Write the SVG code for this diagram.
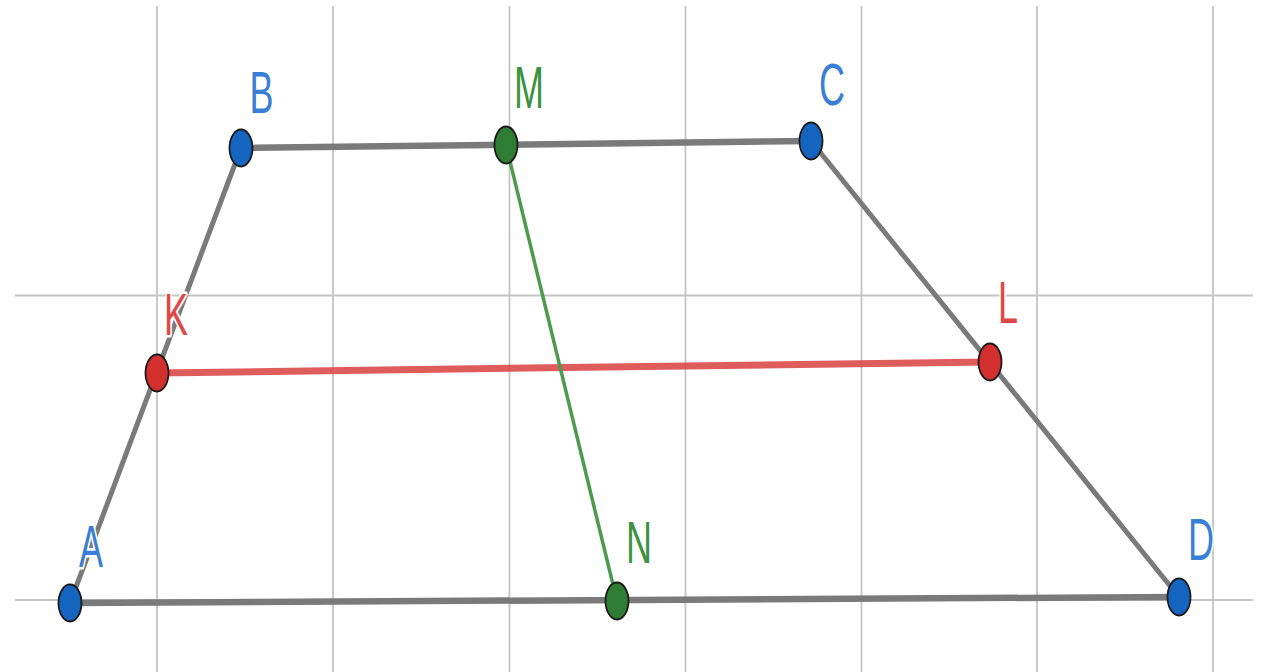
<svg xmlns="http://www.w3.org/2000/svg" width="1266" height="672" viewBox="0 0 1266 672">
<style>
.grid line{stroke:#c4c4c4;stroke-width:1.8}
.seg{stroke:#7a7a7a;stroke-linecap:round}
.lbl{font-family:"Liberation Sans",Arial,sans-serif;font-size:60px;text-anchor:middle;stroke:#fff;stroke-width:5;paint-order:stroke;stroke-linejoin:round}
.blue{fill:#3a7fd6}.red{fill:#e04848}.green{fill:#3d9140}
.pt{stroke:#1a1a1a;stroke-width:1.8}
.pb{fill:#1565c0}.pr{fill:#d32f2f}.pg{fill:#2e7d32}
</style>
<rect width="1266" height="672" fill="#fff"/>
<g id="grid" class="grid">
<line x1="157" y1="6" x2="157" y2="672"/>
<line x1="333" y1="6" x2="333" y2="672"/>
<line x1="509.5" y1="6" x2="509.5" y2="672"/>
<line x1="685.5" y1="6" x2="685.5" y2="672"/>
<line x1="861.5" y1="6" x2="861.5" y2="672"/>
<line x1="1037" y1="6" x2="1037" y2="672"/>
<line x1="1213" y1="6" x2="1213" y2="672"/>
<line x1="15" y1="295.5" x2="1253" y2="295.5"/>
<line x1="15" y1="600" x2="1253" y2="600"/>
</g>
<g id="connectors">
<line class="seg" x1="70" y1="603" x2="241" y2="148" stroke-width="5"/>
<line class="seg" x1="811" y1="141" x2="1179" y2="597" stroke-width="5"/>
<line class="seg" x1="241" y1="148" x2="811" y2="141" stroke-width="6.5"/>
<line class="seg" x1="70" y1="603" x2="1179" y2="597" stroke-width="6.5"/>
<line x1="157" y1="373" x2="990" y2="362" stroke="#dc4a4a" stroke-opacity="0.9" stroke-width="7"/>
<line x1="506" y1="145" x2="617" y2="601" stroke="#4c9a4c" stroke-width="3.5"/>
</g>
<g id="labels">
<text class="lbl blue" transform="translate(261.5,113) scale(0.6,1)">B</text>
<text class="lbl green" transform="translate(529,108) scale(0.6,1)">M</text>
<text class="lbl blue" transform="translate(832,105) scale(0.6,1)">C</text>
<text class="lbl red" transform="translate(176,335) scale(0.6,1)">K</text>
<text class="lbl red" transform="translate(1008,323) scale(0.6,1)">L</text>
<text class="lbl blue" transform="translate(91,567) scale(0.6,1)">A</text>
<text class="lbl green" transform="translate(639,563) scale(0.6,1)">N</text>
<text class="lbl blue" transform="translate(1201,560) scale(0.6,1)">D</text>
</g>
<g id="A"><ellipse class="pt pb" cx="70" cy="603" rx="11.5" ry="18.5"/></g>
<g id="B"><ellipse class="pt pb" cx="241" cy="148" rx="11.5" ry="18.5"/></g>
<g id="C"><ellipse class="pt pb" cx="811" cy="141" rx="11.5" ry="18.5"/></g>
<g id="D"><ellipse class="pt pb" cx="1179" cy="597" rx="11.5" ry="18.5"/></g>
<g id="K"><ellipse class="pt pr" cx="157" cy="373" rx="11.5" ry="18.5"/></g>
<g id="L"><ellipse class="pt pr" cx="990" cy="362" rx="11.5" ry="18.5"/></g>
<g id="M"><ellipse class="pt pg" cx="506" cy="145" rx="11.5" ry="18.5"/></g>
<g id="N"><ellipse class="pt pg" cx="617" cy="601" rx="11.5" ry="18.5"/></g>
</svg>
